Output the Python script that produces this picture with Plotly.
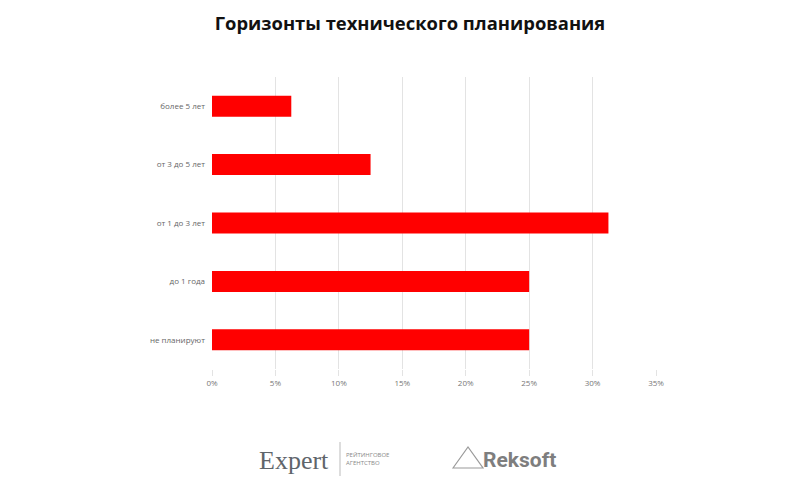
import plotly.graph_objects as go

categories = ["не планируют", "до 1 года", "от 1 до 3 лет", "от 3 до 5 лет", "более 5 лет"]
values = [25.0, 25.0, 31.25, 12.5, 6.25]
tick_vals = [0, 5, 10, 15, 20, 25, 30, 35]
tick_text = ["0%", "5%", "10%", "15%", "20%", "25%", "30%", "35%"]

fig = go.Figure(go.Bar(
    y=categories, x=values, orientation="h",
    marker=dict(color="#ff0000", line=dict(width=0)),
    width=0.36,
))

fig.update_layout(
    width=800, height=492,
    margin=dict(l=212, r=144, t=77, b=123),
    paper_bgcolor="white", plot_bgcolor="white",
    showlegend=False,
    title=dict(text="<b>Горизонты технического планирования</b>",
               x=410 / 800, xref="paper" if False else "container", xanchor="center",
               y=0.953, yanchor="middle",
               font=dict(family="Open Sans, DejaVu Sans", size=18.4, color="#111")),
    xaxis=dict(range=[0, 35], tickvals=tick_vals, ticktext=tick_text,
               showgrid=True, gridcolor="#e3e3e3", gridwidth=1,
               zeroline=False, showline=False,
               ticks="outside", ticklen=6, tickcolor="#e3e3e3",
               tickfont=dict(family="Open Sans, DejaVu Sans", size=8, color="#777")),
    yaxis=dict(categoryorder="array", categoryarray=categories,
               showgrid=False, zeroline=False, showline=False,
               ticks="", ticklabelstandoff=6,
               tickfont=dict(family="Open Sans, DejaVu Sans", size=8, color="#666")),
)

# logos as text
fig.add_annotation(xref="paper", yref="paper", x=(294 - 212) / 444, y=-(460 - 369) / 292,
                   text="Expert", showarrow=False, xanchor="center", yanchor="middle",
                   font=dict(family="Liberation Serif, DejaVu Serif", size=26, color="#5f656b"))
fig.add_shape(type="line", xref="paper", yref="paper",
              x0=(340 - 212) / 444, x1=(340 - 212) / 444,
              y0=-(442 - 369) / 292, y1=-(476 - 369) / 292,
              line=dict(color="#bbbbbb", width=1))
fig.add_annotation(xref="paper", yref="paper", x=(344 - 212) / 444, y=-(459 - 369) / 292,
                   text="РЕЙТИНГОВОЕ<br>АГЕНТСТВО", showarrow=False, xanchor="left", yanchor="middle",
                   align="left",
                   font=dict(family="Open Sans, DejaVu Sans", size=6, color="#888"))
fig.add_shape(type="path", xref="paper", yref="paper",
              path="M %f %f L %f %f L %f %f Z" % (
                  (453 - 212) / 444, -(468 - 369) / 292,
                  (468 - 212) / 444, -(447 - 369) / 292,
                  (483 - 212) / 444, -(468 - 369) / 292),
              line=dict(color="#9a9a9a", width=1.2), fillcolor="rgba(0,0,0,0)")
fig.add_annotation(xref="paper", yref="paper", x=(481 - 212) / 444, y=-(460 - 369) / 292,
                   text="<b>Reksoft</b>", showarrow=False, xanchor="left", yanchor="middle",
                   font=dict(family="Roboto, DejaVu Sans", size=21, color="#7e7e7e"))

fig.write_html("out.html")
